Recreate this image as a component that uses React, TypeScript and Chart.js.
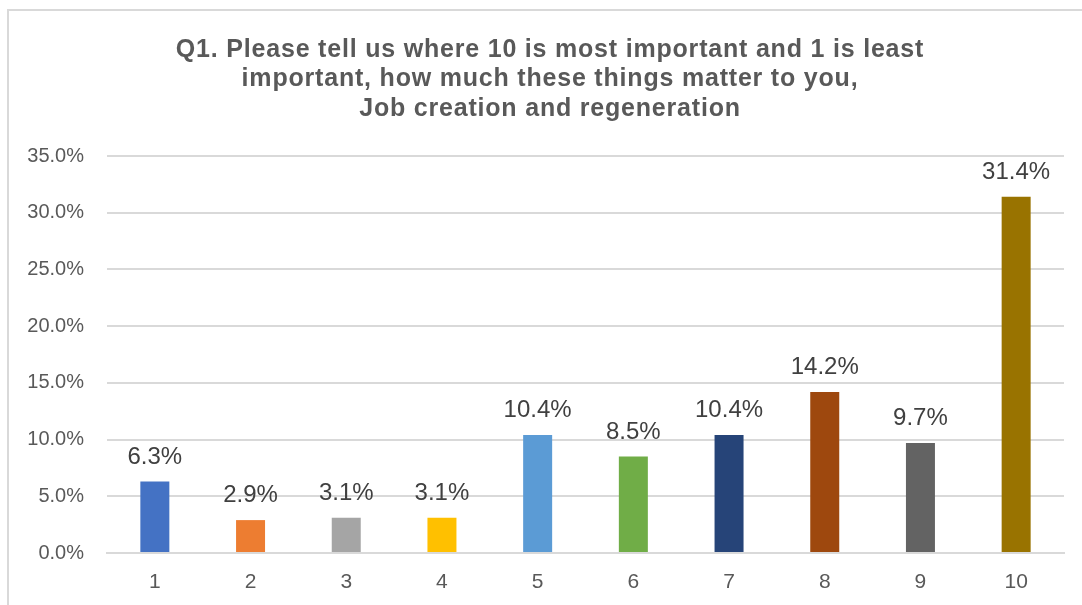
import React, { useEffect, useRef } from "react";
import { Chart, registerables } from "chart.js";

Chart.register(...registerables);

const categories = ["1", "2", "3", "4", "5", "6", "7", "8", "9", "10"];
const values = [6.3, 2.9, 3.1, 3.1, 10.4, 8.5, 10.4, 14.2, 9.7, 31.4];
const barColors = ["#4472C4", "#ED7D31", "#A5A5A5", "#FFC000", "#5B9BD5", "#70AD47", "#264478", "#9E480E", "#636363", "#997300"];
const titleLines = [
  "Q1. Please tell us where 10 is most important and 1 is least",
  "important, how much these things matter to you,",
  "Job creation and regeneration",
];
const yTicks = { min: 0, max: 35, step: 5 };

const FONT = '"Liberation Sans", Arial, sans-serif';

const decorPlugin = {
  id: "decor",
  beforeDraw(chart: any) {
    const ctx = chart.ctx;
    ctx.save();
    ctx.fillStyle = "#ffffff";
    ctx.fillRect(0, 0, chart.width, chart.height);
    ctx.strokeStyle = "#d9d9d9";
    ctx.lineWidth = 2;
    ctx.strokeRect(8, 10, chart.width + 20, chart.height + 20);
    ctx.restore();
  },
  afterDraw(chart: any) {
    const ctx = chart.ctx;
    ctx.save();
    ctx.fillStyle = "#595959";
    ctx.font = `bold 25px ${FONT}`;
    try { (ctx as any).letterSpacing = "0.8px"; } catch (e) {}
    ctx.textAlign = "center";
    ctx.textBaseline = "alphabetic";
    titleLines.forEach((t, i) => ctx.fillText(t, 550, 56.5 + i * 29.5));
    try { (ctx as any).letterSpacing = "0px"; } catch (e) {}
    // data labels
    ctx.fillStyle = "#404040";
    ctx.font = `24px ${FONT}`;
    const meta = chart.getDatasetMeta(0);
    meta.data.forEach((bar: any, i: number) => {
      ctx.fillText(values[i].toFixed(1) + "%", bar.x, bar.y - 18);
    });
    ctx.restore();
  },
};

export default function App() {
  const ref = useRef<HTMLCanvasElement>(null);
  useEffect(() => {
    if (!ref.current) return;
    const chart = new Chart(ref.current, {
      type: "bar",
      data: {
        labels: categories,
        datasets: [
          {
            data: values,
            backgroundColor: barColors,
            borderWidth: 0,
            barPercentage: 0.303,
            categoryPercentage: 1,
          },
        ],
      },
      options: {
        animation: false,
        responsive: false,
        layout: { padding: { top: 156, right: 18, left: 0, bottom: 0 } },
        plugins: { legend: { display: false }, tooltip: { enabled: false }, title: { display: false } },
        scales: {
          x: {
            grid: { display: false, drawTicks: false },
            border: { display: true, color: "#d9d9d9", width: 2 },
            ticks: { color: "#595959", font: { family: FONT, size: 21 }, padding: 17 },
            afterFit: (s: any) => { s.height = 52; },
          },
          y: {
            min: yTicks.min,
            max: yTicks.max,
            grid: { color: "#d9d9d9", lineWidth: 2, drawTicks: false },
            border: { display: false },
            ticks: {
              stepSize: yTicks.step,
              color: "#595959",
              font: { family: FONT, size: 20 },
              padding: 23,
              callback: (v: any) => Number(v).toFixed(1) + "%",
            },
            afterFit: (s: any) => { s.width = 107; },
          },
        },
      },
      plugins: [decorPlugin],
    });
    return () => chart.destroy();
  }, []);
  return (
    <div style={{ position: "absolute", left: 0, top: 0, width: 1082, height: 605 }}>
      <canvas ref={ref} width={1082} height={605} style={{ display: "block" }} />
    </div>
  );
}
